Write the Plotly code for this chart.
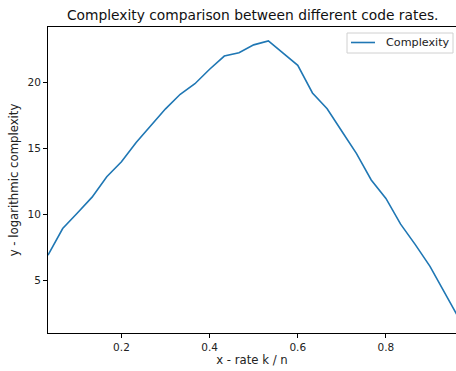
import plotly.graph_objects as go

n = 30
k_values = list(range(1, 30))
rate = [k / n for k in k_values]
complexity = [6.9, 8.92, 10.1, 11.3, 12.85, 13.98, 15.45, 16.7, 18.0, 19.1,
              19.9, 21.0, 22.0, 22.25, 22.85, 23.15, 22.2, 21.3, 19.2, 18.0,
              16.3, 14.6, 12.6, 11.2, 9.25, 7.7, 6.05, 4.05, 2.05]
x_ticks = [0.2, 0.4, 0.6, 0.8]
y_ticks = [5, 10, 15, 20]
series_name = "Complexity"
line_color = "#1f77b4"

ymin, ymax = min(complexity), max(complexity)
pad = 0.05 * (ymax - ymin)

FONT = "DejaVu Sans"
W, H = 456, 371
L, R, T, B = 48, 0, 27, 38
PW, PH = W - L - R, H - T - B


def px_x(p):
    return (p - L) / PW


def px_y(p):
    return (H - B - p) / PH


fig = go.Figure()
fig.add_trace(go.Scatter(x=rate, y=complexity, mode="lines", name=series_name,
                         line=dict(color=line_color, width=1.6), showlegend=False))

axis_common = dict(showgrid=False, zeroline=False, showline=True, linecolor="black",
                   linewidth=1, mirror=True, ticks="outside", ticklen=4,
                   tickcolor="black", tickwidth=1,
                   tickfont=dict(family=FONT, size=10.5, color="#222"))

# legend box (matplotlib style)
shapes = [
    dict(type="rect", xref="paper", yref="paper",
         x0=px_x(347), x1=px_x(453), y0=px_y(53), y1=px_y(33),
         line=dict(color="#d0d0d0", width=1), fillcolor="rgba(255,255,255,0.8)",
         layer="above"),
    dict(type="line", xref="paper", yref="paper",
         x0=px_x(351), x1=px_x(375), y0=px_y(42.5), y1=px_y(42.5),
         line=dict(color=line_color, width=1.6), layer="above"),
]
annotations = [
    dict(text=series_name, xref="paper", yref="paper", x=px_x(384), y=px_y(42.5),
         xanchor="left", yanchor="middle", showarrow=False,
         font=dict(family=FONT, size=11.2, color="#222")),
]

fig.update_layout(
    width=W, height=H,
    margin=dict(l=L, r=R, t=T, b=B),
    paper_bgcolor="white", plot_bgcolor="white",
    font=dict(family=FONT, size=10.5, color="#222"),
    title=dict(text="Complexity comparison between different code rates.",
               x=252.7 / W, xanchor="center", y=1 - 15 / H, yanchor="middle",
               font=dict(family=FONT, size=13.8, color="#111")),
    xaxis=dict(range=[1 / 30, 0.959], tickvals=x_ticks,
               ticktext=[f"{v:.1f}" for v in x_ticks],
               title=dict(text="x - rate k / n", standoff=4,
                          font=dict(family=FONT, size=11.7, color="#222")),
               **axis_common),
    yaxis=dict(range=[ymin - pad, ymax + pad], tickvals=y_ticks,
               title=dict(text="y - logarithmic complexity", standoff=6,
                          font=dict(family=FONT, size=11.7, color="#222")),
               **axis_common),
    showlegend=False,
    shapes=shapes,
    annotations=annotations,
)

fig.write_html("out.html")
